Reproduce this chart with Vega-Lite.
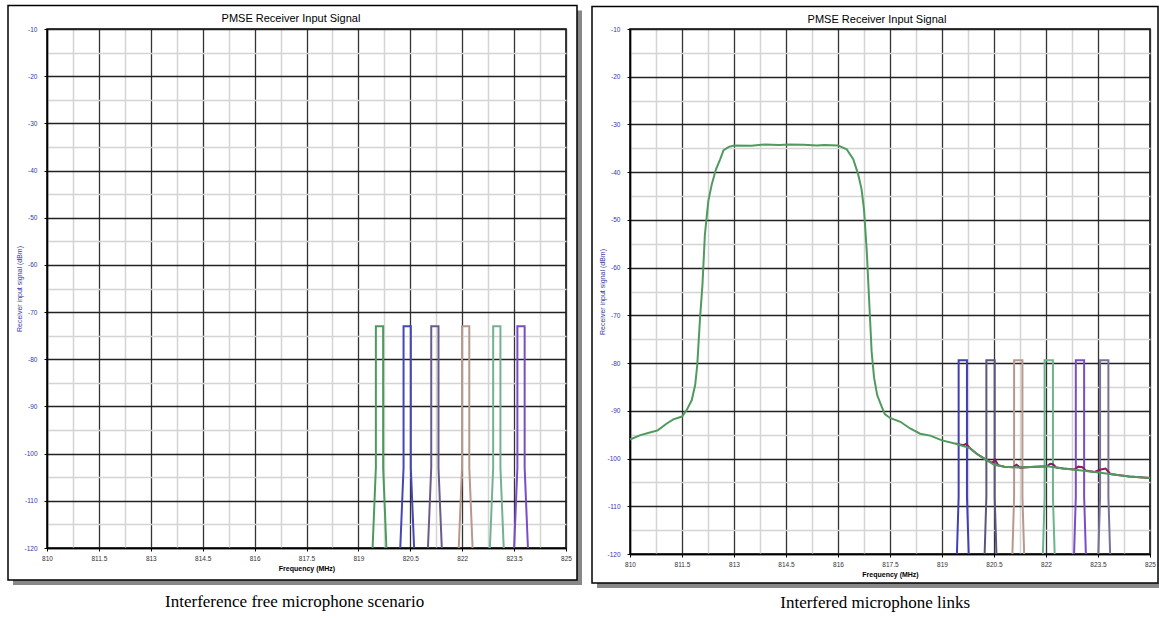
{
  "$schema": "https://vega.github.io/schema/vega-lite/v6.json",
  "background": "white",
  "padding": {"left": 6, "top": 3, "right": 0, "bottom": 0},
  "spacing": 7,
  "resolve": {"scale": {"color": "independent"}},
  "config": {
    "view": {"stroke": "black", "strokeWidth": 1.5},
    "font": "Liberation Sans"
  },
  "datasets": {
    "leftMics": [
      {"mic": "L1", "i": 1, "f": 819.41, "dbm": -120}, {"mic": "L1", "i": 2, "f": 819.505, "dbm": -103}, {"mic": "L1", "i": 3, "f": 819.505, "dbm": -73}, {"mic": "L1", "i": 4, "f": 819.715, "dbm": -73}, {"mic": "L1", "i": 5, "f": 819.715, "dbm": -103}, {"mic": "L1", "i": 6, "f": 819.81, "dbm": -120},
      {"mic": "L2", "i": 1, "f": 820.21, "dbm": -120}, {"mic": "L2", "i": 2, "f": 820.305, "dbm": -103}, {"mic": "L2", "i": 3, "f": 820.305, "dbm": -73}, {"mic": "L2", "i": 4, "f": 820.515, "dbm": -73}, {"mic": "L2", "i": 5, "f": 820.515, "dbm": -103}, {"mic": "L2", "i": 6, "f": 820.61, "dbm": -120},
      {"mic": "L3", "i": 1, "f": 821.01, "dbm": -120}, {"mic": "L3", "i": 2, "f": 821.105, "dbm": -103}, {"mic": "L3", "i": 3, "f": 821.105, "dbm": -73}, {"mic": "L3", "i": 4, "f": 821.315, "dbm": -73}, {"mic": "L3", "i": 5, "f": 821.315, "dbm": -103}, {"mic": "L3", "i": 6, "f": 821.41, "dbm": -120},
      {"mic": "L4", "i": 1, "f": 821.9, "dbm": -120}, {"mic": "L4", "i": 2, "f": 821.995, "dbm": -103}, {"mic": "L4", "i": 3, "f": 821.995, "dbm": -73}, {"mic": "L4", "i": 4, "f": 822.205, "dbm": -73}, {"mic": "L4", "i": 5, "f": 822.205, "dbm": -103}, {"mic": "L4", "i": 6, "f": 822.3, "dbm": -120},
      {"mic": "L5", "i": 1, "f": 822.8, "dbm": -120}, {"mic": "L5", "i": 2, "f": 822.895, "dbm": -103}, {"mic": "L5", "i": 3, "f": 822.895, "dbm": -73}, {"mic": "L5", "i": 4, "f": 823.105, "dbm": -73}, {"mic": "L5", "i": 5, "f": 823.105, "dbm": -103}, {"mic": "L5", "i": 6, "f": 823.2, "dbm": -120},
      {"mic": "L6", "i": 1, "f": 823.5, "dbm": -120}, {"mic": "L6", "i": 2, "f": 823.595, "dbm": -103}, {"mic": "L6", "i": 3, "f": 823.595, "dbm": -73}, {"mic": "L6", "i": 4, "f": 823.805, "dbm": -73}, {"mic": "L6", "i": 5, "f": 823.805, "dbm": -103}, {"mic": "L6", "i": 6, "f": 823.9, "dbm": -120}
    ],
    "rightMics": [
      {"mic": "R1", "i": 1, "f": 819.43, "dbm": -120}, {"mic": "R1", "i": 2, "f": 819.48, "dbm": -108}, {"mic": "R1", "i": 3, "f": 819.48, "dbm": -79.4}, {"mic": "R1", "i": 4, "f": 819.72, "dbm": -79.4}, {"mic": "R1", "i": 5, "f": 819.72, "dbm": -108}, {"mic": "R1", "i": 6, "f": 819.77, "dbm": -120},
      {"mic": "R2", "i": 1, "f": 820.23, "dbm": -120}, {"mic": "R2", "i": 2, "f": 820.28, "dbm": -108}, {"mic": "R2", "i": 3, "f": 820.28, "dbm": -79.4}, {"mic": "R2", "i": 4, "f": 820.52, "dbm": -79.4}, {"mic": "R2", "i": 5, "f": 820.52, "dbm": -108}, {"mic": "R2", "i": 6, "f": 820.57, "dbm": -120},
      {"mic": "R3", "i": 1, "f": 821.03, "dbm": -120}, {"mic": "R3", "i": 2, "f": 821.08, "dbm": -108}, {"mic": "R3", "i": 3, "f": 821.08, "dbm": -79.4}, {"mic": "R3", "i": 4, "f": 821.32, "dbm": -79.4}, {"mic": "R3", "i": 5, "f": 821.32, "dbm": -108}, {"mic": "R3", "i": 6, "f": 821.37, "dbm": -120},
      {"mic": "R4", "i": 1, "f": 821.91, "dbm": -120}, {"mic": "R4", "i": 2, "f": 821.96, "dbm": -108}, {"mic": "R4", "i": 3, "f": 821.96, "dbm": -79.4}, {"mic": "R4", "i": 4, "f": 822.2, "dbm": -79.4}, {"mic": "R4", "i": 5, "f": 822.2, "dbm": -108}, {"mic": "R4", "i": 6, "f": 822.25, "dbm": -120},
      {"mic": "R5", "i": 1, "f": 822.81, "dbm": -120}, {"mic": "R5", "i": 2, "f": 822.86, "dbm": -108}, {"mic": "R5", "i": 3, "f": 822.86, "dbm": -79.4}, {"mic": "R5", "i": 4, "f": 823.1, "dbm": -79.4}, {"mic": "R5", "i": 5, "f": 823.1, "dbm": -108}, {"mic": "R5", "i": 6, "f": 823.15, "dbm": -120},
      {"mic": "R6", "i": 1, "f": 823.51, "dbm": -120}, {"mic": "R6", "i": 2, "f": 823.56, "dbm": -108}, {"mic": "R6", "i": 3, "f": 823.56, "dbm": -79.4}, {"mic": "R6", "i": 4, "f": 823.8, "dbm": -79.4}, {"mic": "R6", "i": 5, "f": 823.8, "dbm": -108}, {"mic": "R6", "i": 6, "f": 823.85, "dbm": -120}
    ],
    "interferer": [
      {"f": 810.0, "dbm": -96.0}, {"f": 810.3, "dbm": -95.1}, {"f": 810.6, "dbm": -94.5}, {"f": 810.8, "dbm": -94.1},
      {"f": 811.05, "dbm": -92.7}, {"f": 811.25, "dbm": -91.8}, {"f": 811.5, "dbm": -91.2}, {"f": 811.63, "dbm": -89.9},
      {"f": 811.78, "dbm": -87.8}, {"f": 811.88, "dbm": -84.6}, {"f": 811.94, "dbm": -80.4}, {"f": 812.02, "dbm": -70.6},
      {"f": 812.09, "dbm": -63.6}, {"f": 812.16, "dbm": -53.1}, {"f": 812.26, "dbm": -46.0}, {"f": 812.36, "dbm": -42.5},
      {"f": 812.48, "dbm": -39.4}, {"f": 812.6, "dbm": -37.3}, {"f": 812.7, "dbm": -35.4}, {"f": 812.85, "dbm": -34.7},
      {"f": 813.0, "dbm": -34.4}, {"f": 813.5, "dbm": -34.45}, {"f": 813.9, "dbm": -34.2}, {"f": 814.3, "dbm": -34.3},
      {"f": 814.6, "dbm": -34.2}, {"f": 815.0, "dbm": -34.25}, {"f": 815.4, "dbm": -34.4}, {"f": 815.6, "dbm": -34.3},
      {"f": 816.0, "dbm": -34.4}, {"f": 816.25, "dbm": -35.2}, {"f": 816.44, "dbm": -37.3}, {"f": 816.58, "dbm": -40.4},
      {"f": 816.68, "dbm": -43.6}, {"f": 816.75, "dbm": -47.8}, {"f": 816.83, "dbm": -56.6}, {"f": 816.9, "dbm": -67.1},
      {"f": 816.97, "dbm": -77.6}, {"f": 817.04, "dbm": -83.0}, {"f": 817.13, "dbm": -86.7}, {"f": 817.26, "dbm": -89.1},
      {"f": 817.35, "dbm": -90.7}, {"f": 817.5, "dbm": -91.5}, {"f": 817.8, "dbm": -92.3}, {"f": 818.08, "dbm": -93.7},
      {"f": 818.37, "dbm": -94.8}, {"f": 818.66, "dbm": -95.2}, {"f": 819.0, "dbm": -96.2}, {"f": 819.4, "dbm": -96.9},
      {"f": 819.8, "dbm": -97.8}, {"f": 820.0, "dbm": -99.0}, {"f": 820.3, "dbm": -100.4}, {"f": 820.5, "dbm": -101.3},
      {"f": 820.8, "dbm": -101.7}, {"f": 821.2, "dbm": -101.9}, {"f": 821.7, "dbm": -101.7}, {"f": 822.03, "dbm": -101.6},
      {"f": 822.5, "dbm": -102.1}, {"f": 822.9, "dbm": -102.4}, {"f": 823.4, "dbm": -102.8}, {"f": 823.9, "dbm": -103.3},
      {"f": 824.4, "dbm": -103.75}, {"f": 825.0, "dbm": -104.1}
    ],
    "interfererSum": [
      {"f": 819.4, "dbm": -96.9}, {"f": 819.62, "dbm": -97.2}, {"f": 819.7, "dbm": -96.9}, {"f": 819.8, "dbm": -97.8},
      {"f": 820.0, "dbm": -99.0}, {"f": 820.3, "dbm": -100.4}, {"f": 820.46, "dbm": -100.9}, {"f": 820.53, "dbm": -100.2},
      {"f": 820.62, "dbm": -101.4}, {"f": 820.8, "dbm": -101.7}, {"f": 821.05, "dbm": -101.8}, {"f": 821.15, "dbm": -101.3},
      {"f": 821.25, "dbm": -101.9}, {"f": 821.7, "dbm": -101.7}, {"f": 822.03, "dbm": -101.6}, {"f": 822.12, "dbm": -101.1},
      {"f": 822.2, "dbm": -101.2}, {"f": 822.3, "dbm": -101.9}, {"f": 822.5, "dbm": -102.1}, {"f": 822.82, "dbm": -102.3},
      {"f": 822.93, "dbm": -101.7}, {"f": 823.05, "dbm": -101.8}, {"f": 823.14, "dbm": -102.5}, {"f": 823.4, "dbm": -102.8},
      {"f": 823.58, "dbm": -102.3}, {"f": 823.72, "dbm": -102.1}, {"f": 823.84, "dbm": -103.1}, {"f": 823.9, "dbm": -103.3},
      {"f": 824.4, "dbm": -103.75}, {"f": 825.0, "dbm": -104.1}
    ]
  },
  "hconcat": [
    {
      "width": 519,
      "height": 519,
      "title": {"text": "Interference free microphone scenario", "orient": "bottom", "anchor": "middle", "frame": "bounds", "font": "Liberation Serif", "fontSize": 17, "fontWeight": "normal", "color": "black", "offset": 9},
      "resolve": {"axis": {"x": "independent", "y": "independent"}},
      "layer": [
        {
          "data": {"values": [{}]},
          "mark": {"type": "rect", "fill": "#888888", "strokeWidth": 0},
          "encoding": {
            "x": {"datum": 825.318, "type": "quantitative", "scale": {"domain": [810, 825], "nice": false, "zero": false},
              "axis": {"orient": "top", "values": [810.75, 812.25, 813.75, 815.25, 816.75, 818.25, 819.75, 821.25, 822.75, 824.25], "grid": true, "gridColor": "#d4d4d4", "gridWidth": 1.5, "labels": false, "ticks": false, "domain": false, "title": null}},
            "x2": {"datum": 825.462},
            "y": {"datum": -6.079, "type": "quantitative", "scale": {"domain": [-120, -10], "nice": false, "zero": false},
              "axis": {"orient": "right", "values": [-115, -105, -95, -85, -75, -65, -55, -45, -35, -25, -15], "grid": true, "gridColor": "#d4d4d4", "gridWidth": 1.5, "labels": false, "ticks": false, "domain": false, "title": null}},
            "y2": {"datum": -127.84}
          }
        },
        {
          "data": {"name": "leftMics"},
          "mark": {"type": "line", "strokeWidth": 2},
          "encoding": {
            "x": {
              "field": "f", "type": "quantitative",
              "scale": {"domain": [810, 825], "nice": false, "zero": false},
              "axis": {
                "orient": "bottom",
                "title": "Frequency (MHz)",
                "values": [810, 811.5, 813, 814.5, 816, 817.5, 819, 820.5, 822, 823.5, 825],
                "labelExpr": "'' + datum.value",
                "labelFont": "Liberation Sans", "labelFontSize": 6.5, "labelColor": "#333333",
                "labelPadding": 4, "labelOverlap": false, "labelFlush": false,
                "tickSize": 3, "tickColor": "black",
                "domainColor": "black", "domainWidth": 1.5,
                "grid": true, "gridColor": "#333333", "gridWidth": 1.3,
                "titleFont": "Liberation Sans", "titleFontSize": 7, "titleFontWeight": "bold", "titleColor": "black", "titlePadding": 3
              }
            },
            "y": {
              "field": "dbm", "type": "quantitative",
              "scale": {"domain": [-120, -10], "nice": false, "zero": false},
              "axis": {
                "orient": "left",
                "title": "Receiver input signal (dBm)",
                "values": [-120, -110, -100, -90, -80, -70, -60, -50, -40, -30, -20, -10],
                "labelExpr": "'' + datum.value",
                "labelFont": "Liberation Sans", "labelFontSize": 6.5, "labelColor": "#3535a8",
                "labelPadding": 7, "labelOverlap": false,
                "tickSize": 3, "tickColor": "black",
                "domainColor": "black", "domainWidth": 1.5,
                "grid": true, "gridColor": "#222222", "gridWidth": 1.3,
                "titleFont": "Liberation Sans", "titleFontSize": 7, "titleFontWeight": "normal", "titleColor": "#3535a8", "titlePadding": 1
              }
            },
            "color": {
              "field": "mic", "type": "nominal",
              "scale": {"domain": ["L1", "L2", "L3", "L4", "L5", "L6"], "range": ["#4e9a5e", "#4646b4", "#6a5c8a", "#b8988a", "#72b292", "#7a4cc8"]},
              "legend": null
            },
            "order": {"field": "i", "type": "quantitative"}
          }
        },
        {
          "data": {"values": [{}]},
          "mark": {"type": "rect", "fill": "#888888", "strokeWidth": 0},
          "encoding": {
            "x": {"datum": 809.017, "type": "quantitative", "axis": null},
            "x2": {"datum": 825.462},
            "y": {"datum": -126.78, "type": "quantitative", "axis": null},
            "y2": {"datum": -127.84}
          }
        },
        {
          "data": {"values": [{}]},
          "mark": {"type": "rect", "fill": "white", "fillOpacity": 0, "stroke": "black", "strokeWidth": 1.5},
          "encoding": {
            "x": {"datum": 808.873, "type": "quantitative", "axis": null},
            "x2": {"datum": 825.318},
            "y": {"datum": -5.019, "type": "quantitative", "axis": null},
            "y2": {"datum": -126.78}
          }
        },
        {
          "data": {"values": [{}]},
          "mark": {"type": "text", "text": "PMSE Receiver Input Signal", "font": "Liberation Sans", "fontSize": 11, "color": "black", "align": "center", "baseline": "middle"},
          "encoding": {
            "x": {"datum": 817.05, "type": "quantitative", "axis": null},
            "y": {"datum": -7.9, "type": "quantitative", "axis": null}
          }
        }
      ]
    },
    {
      "width": 520,
      "height": 525,
      "title": {"text": "Interfered microphone links", "orient": "bottom", "anchor": "middle", "frame": "bounds", "font": "Liberation Serif", "fontSize": 17, "fontWeight": "normal", "color": "black", "offset": 7},
      "resolve": {"axis": {"x": "independent", "y": "independent"}},
      "layer": [
        {
          "data": {"values": [{}]},
          "mark": {"type": "rect", "fill": "#888888", "strokeWidth": 0},
          "encoding": {
            "x": {"datum": 809.048, "type": "quantitative", "scale": {"domain": [810, 825], "nice": false, "zero": false},
              "axis": {"orient": "top", "values": [810.75, 812.25, 813.75, 815.25, 816.75, 818.25, 819.75, 821.25, 822.75, 824.25], "grid": true, "gridColor": "#d4d4d4", "gridWidth": 1.5, "labels": false, "ticks": false, "domain": false, "title": null}},
            "x2": {"datum": 825.26},
            "y": {"datum": -126.076, "type": "quantitative", "scale": {"domain": [-120, -10], "nice": false, "zero": false},
              "axis": {"orient": "right", "values": [-115, -105, -95, -85, -75, -65, -55, -45, -35, -25, -15], "grid": true, "gridColor": "#d4d4d4", "gridWidth": 1.5, "labels": false, "ticks": false, "domain": false, "title": null}},
            "y2": {"datum": -127.123}
          }
        },
        {
          "data": {"name": "rightMics"},
          "mark": {"type": "line", "strokeWidth": 2},
          "encoding": {
            "x": {
              "field": "f", "type": "quantitative",
              "scale": {"domain": [810, 825], "nice": false, "zero": false},
              "axis": {
                "orient": "bottom",
                "title": "Frequency (MHz)",
                "values": [810, 811.5, 813, 814.5, 816, 817.5, 819, 820.5, 822, 823.5, 825],
                "labelExpr": "'' + datum.value",
                "labelFont": "Liberation Sans", "labelFontSize": 6.5, "labelColor": "#333333",
                "labelPadding": 4, "labelOverlap": false, "labelFlush": false,
                "tickSize": 3, "tickColor": "black",
                "domainColor": "black", "domainWidth": 1.5,
                "grid": true, "gridColor": "#333333", "gridWidth": 1.3,
                "titleFont": "Liberation Sans", "titleFontSize": 7, "titleFontWeight": "bold", "titleColor": "black", "titlePadding": 3
              }
            },
            "y": {
              "field": "dbm", "type": "quantitative",
              "scale": {"domain": [-120, -10], "nice": false, "zero": false},
              "axis": {
                "orient": "left",
                "title": "Receiver input signal (dBm)",
                "values": [-120, -110, -100, -90, -80, -70, -60, -50, -40, -30, -20, -10],
                "labelExpr": "'' + datum.value",
                "labelFont": "Liberation Sans", "labelFontSize": 6.5, "labelColor": "#3535a8",
                "labelPadding": 7, "labelOverlap": false,
                "tickSize": 3, "tickColor": "black",
                "domainColor": "black", "domainWidth": 1.5,
                "grid": true, "gridColor": "#222222", "gridWidth": 1.3,
                "titleFont": "Liberation Sans", "titleFontSize": 7, "titleFontWeight": "normal", "titleColor": "#3535a8", "titlePadding": 1
              }
            },
            "color": {
              "field": "mic", "type": "nominal",
              "scale": {"domain": ["R1", "R2", "R3", "R4", "R5", "R6"], "range": ["#4040b0", "#5e5480", "#b8988a", "#6cb48c", "#7a4cc8", "#7a7098"]},
              "legend": null
            },
            "order": {"field": "i", "type": "quantitative"}
          }
        },
        {
          "data": {"name": "interfererSum"},
          "mark": {"type": "line", "strokeWidth": 2, "color": "#8b1a5e"},
          "encoding": {
            "x": {"field": "f", "type": "quantitative", "axis": null},
            "y": {"field": "dbm", "type": "quantitative", "axis": null}
          }
        },
        {
          "data": {"name": "interferer"},
          "mark": {"type": "line", "strokeWidth": 2, "color": "#4f9a5f"},
          "encoding": {
            "x": {"field": "f", "type": "quantitative", "axis": null},
            "y": {"field": "dbm", "type": "quantitative", "axis": null}
          }
        },
        {
          "data": {"values": [{}]},
          "mark": {"type": "rect", "fill": "white", "fillOpacity": 0, "stroke": "black", "strokeWidth": 1.5},
          "encoding": {
            "x": {"datum": 808.904, "type": "quantitative", "axis": null},
            "x2": {"datum": 825.231},
            "y": {"datum": -5.286, "type": "quantitative", "axis": null},
            "y2": {"datum": -126.076}
          }
        },
        {
          "data": {"values": [{}]},
          "mark": {"type": "text", "text": "PMSE Receiver Input Signal", "font": "Liberation Sans", "fontSize": 11, "color": "black", "align": "center", "baseline": "middle"},
          "encoding": {
            "x": {"datum": 817.125, "type": "quantitative", "axis": null},
            "y": {"datum": -8.11, "type": "quantitative", "axis": null}
          }
        }
      ]
    }
  ]
}
